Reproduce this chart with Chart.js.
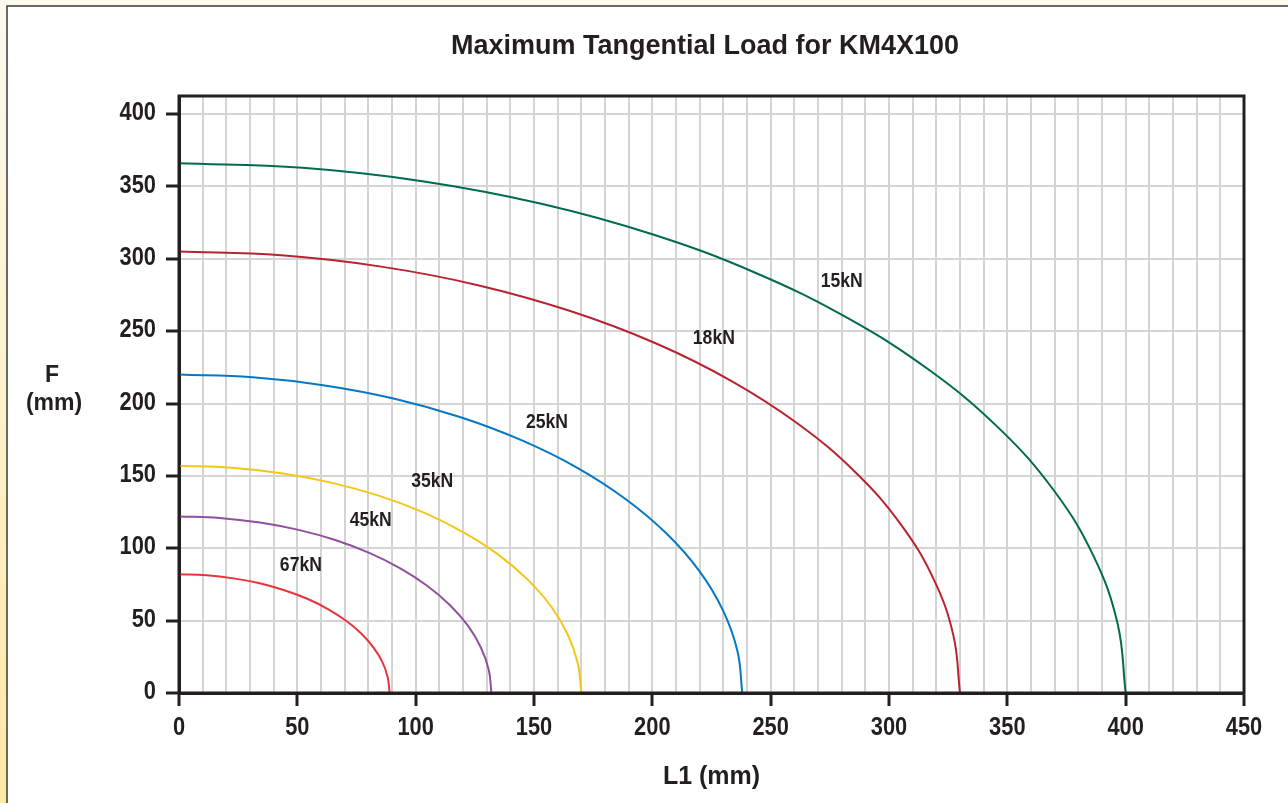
<!DOCTYPE html>
<html>
<head>
<meta charset="utf-8">
<script src="https://cdn.jsdelivr.net/npm/chart.js@4.4.1/dist/chart.umd.min.js"></script>
<style>
  html, body { margin: 0; padding: 0; background: #ffffff; }
  #wrap { position: relative; width: 1288px; height: 803px; }
</style>
</head>
<body>
<div id="wrap"><canvas id="c"></canvas></div>
<script>
// ---- data ----
const seriesNames = ['15kN', '18kN', '25kN', '35kN', '45kN', '67kN'];
const seriesColors = ['#006b4e', '#b8232f', '#0478c6', '#f5c714', '#8f509e', '#e8333b'];

const l1_15 = [0, 52.2, 103.5, 153.1, 200, 243.5, 282.8, 317.3, 346.4, 369.6, 386.4, 396.6, 400];
const f_15  = [366, 362.9, 353.5, 338.1, 317.0, 290.4, 258.8, 222.8, 183, 140.1, 94.7, 47.8, 0];

const l1_18 = [0, 43.1, 85.4, 126.3, 165, 200.9, 233.3, 261.8, 285.8, 304.9, 318.8, 327.2, 330];
const f_18  = [305, 302.4, 294.6, 281.8, 264.1, 242.0, 215.7, 185.7, 152.5, 116.7, 78.9, 39.8, 0];

const l1_25 = [0, 31.1, 61.6, 91.1, 119, 144.9, 168.3, 188.8, 206.1, 219.9, 229.9, 236.0, 238];
const f_25  = [220, 218.1, 212.5, 203.3, 190.5, 174.5, 155.6, 133.9, 110, 84.2, 56.9, 28.7, 0];

const l1_35 = [0, 22.2, 44.0, 65.1, 85, 103.5, 120.2, 134.9, 147.2, 157.1, 164.2, 168.5, 170];
const f_35  = [157, 155.7, 151.7, 145.0, 136.0, 124.6, 111.0, 95.6, 78.5, 60.1, 40.6, 20.5, 0];

const l1_45 = [0, 17.2, 34.2, 50.5, 66, 80.4, 93.3, 104.7, 114.3, 122.0, 127.5, 130.9, 132];
const f_45  = [122, 121.0, 117.8, 112.7, 105.7, 96.8, 86.3, 74.3, 61, 46.7, 31.6, 15.9, 0];

const l1_67 = [0, 11.6, 23.0, 34.1, 44.5, 54.2, 62.9, 70.6, 77.1, 82.2, 86.0, 88.2, 89];
const f_67  = [82, 81.3, 79.2, 75.8, 71.0, 65.1, 58.0, 49.9, 41, 31.4, 21.2, 10.7, 0];

// label anchor points (data coordinates) for the curve labels
const labelL1 = [280, 226, 155.5, 107, 81, 51.5];
const labelF  = [284, 245, 187, 146, 119, 88];

// tick values
const xGridValues = [0,10,20,30,40,50,60,70,80,90,100,110,120,130,140,150,160,170,180,190,200,
  210,220,230,240,250,260,270,280,290,300,310,320,330,340,350,360,370,380,390,400,410,420,430,440,450];
const xLabelValues = [0, 50, 100, 150, 200, 250, 300, 350, 400, 450];
const yTickValues = [0, 50, 100, 150, 200, 250, 300, 350, 400];

const chartTitle = 'Maximum Tangential Load for KM4X100';
const xTitle = 'L1 (mm)';
const yTitleLines = ['F', '(mm)'];

// ---- build datasets ----
const xs = [l1_15, l1_18, l1_25, l1_35, l1_45, l1_67];
const ys = [f_15, f_18, f_25, f_35, f_45, f_67];
const datasets = seriesNames.map((name, i) => ({
  label: name,
  data: xs[i].map((x, k) => ({ x: x, y: ys[i][k] })),
  showLine: true,
  borderColor: seriesColors[i],
  backgroundColor: seriesColors[i],
  borderWidth: 2,
  pointRadius: 0,
  pointHoverRadius: 0,
  tension: 0.4,
  fill: false
}));

const INK = '#231f20';
const GRID = '#d4d4d4';
const SANS = '"Liberation Sans", Arial, Helvetica, sans-serif';

function condensedText(ctx, text, x, y, sx, align) {
  ctx.save();
  ctx.translate(x, y);
  ctx.scale(sx, 1);
  ctx.textAlign = align;
  ctx.fillText(text, 0, 0);
  ctx.restore();
}

const framePlugin = {
  id: 'frame',
  beforeDraw(chart) {
    const ctx = chart.ctx;
    const W = chart.width, H = chart.height;
    ctx.save();
    ctx.fillStyle = '#ffffff';
    ctx.fillRect(0, 0, W, H);
    ctx.fillStyle = '#fdfaf0';
    ctx.fillRect(0, 0, W, 6);
    const g = ctx.createLinearGradient(0, 0, 0, H);
    g.addColorStop(0, '#fdf9ee');
    g.addColorStop(0.5, '#fdf1cc');
    g.addColorStop(1, '#fde8a4');
    ctx.fillStyle = g;
    ctx.fillRect(0, 0, 7, H);
    ctx.strokeStyle = '#3a3a3a';
    ctx.lineWidth = 1.5;
    ctx.beginPath();
    ctx.moveTo(7, H);
    ctx.lineTo(7, 6);
    ctx.lineTo(W, 6);
    ctx.stroke();
    ctx.restore();
  },
  afterDatasetsDraw(chart) {
    const ctx = chart.ctx;
    const a = chart.chartArea;
    const xS = chart.scales.x, yS = chart.scales.y;
    ctx.save();
    // plot box
    ctx.strokeStyle = INK;
    ctx.lineWidth = 3;
    ctx.strokeRect(a.left, a.top, a.right - a.left, a.bottom - a.top);
    ctx.fillStyle = INK;
    ctx.textBaseline = 'middle';
    // tick labels (condensed bold)
    ctx.font = 'bold 26px ' + SANS;
    xLabelValues.forEach(v => {
      condensedText(ctx, String(v), xS.getPixelForValue(v), a.bottom + 35, 0.84, 'center');
    });
    yTickValues.forEach(v => {
      condensedText(ctx, String(v), a.left - 23, yS.getPixelForValue(v) - 1, 0.84, 'right');
    });
    // curve labels
    ctx.font = 'bold 20px ' + SANS;
    seriesNames.forEach((n, i) => {
      condensedText(ctx, n, xS.getPixelForValue(labelL1[i]), yS.getPixelForValue(labelF[i]), 0.88, 'center');
    });
    // chart title
    ctx.textAlign = 'center';
    ctx.font = 'bold 27px ' + SANS;
    ctx.fillText(chartTitle, 705, 47);
    // y title
    ctx.font = 'bold 23px ' + SANS;
    ctx.fillText(yTitleLines[0], 52, 376);
    ctx.fillText(yTitleLines[1], 54, 404);
    ctx.restore();
  }
};

new Chart(document.getElementById('c'), {
  type: 'scatter',
  data: { datasets: datasets },
  plugins: [framePlugin],
  options: {
    responsive: true,
    maintainAspectRatio: false,
    animation: false,
    devicePixelRatio: 1,
    layout: { padding: { left: 0, top: 96, right: 44, bottom: 0 } },
    plugins: {
      legend: { display: false },
      title: { display: false },
      tooltip: { enabled: false }
    },
    scales: {
      x: {
        type: 'linear',
        min: 0,
        max: 450,
        afterBuildTicks(scale) { scale.ticks = xGridValues.map(v => ({ value: v })); },
        afterFit(scale) { scale.height = 110; },
        ticks: {
          display: false,
          autoSkip: false,
          maxRotation: 0
        },
        grid: {
          color: GRID,
          lineWidth: 2,
          tickLength: 13,
          tickWidth: 3,
          tickColor: c => (c.tick && xLabelValues.includes(c.tick.value) ? INK : 'rgba(0,0,0,0)')
        },
        border: { color: INK, width: 3 },
        title: {
          display: true,
          text: xTitle,
          color: INK,
          font: { family: SANS, size: 25, weight: 'bold' },
          padding: { top: 0, bottom: 11 }
        }
      },
      y: {
        type: 'linear',
        min: 0,
        max: 412.5,
        afterBuildTicks(scale) { scale.ticks = yTickValues.map(v => ({ value: v })); },
        afterFit(scale) { scale.width = 179; },
        ticks: {
          display: false
        },
        grid: {
          color: GRID,
          lineWidth: 2,
          tickLength: 13,
          tickWidth: 3,
          tickColor: INK
        },
        border: { color: INK, width: 3 }
      }
    }
  }
});
</script>
</body>
</html>
